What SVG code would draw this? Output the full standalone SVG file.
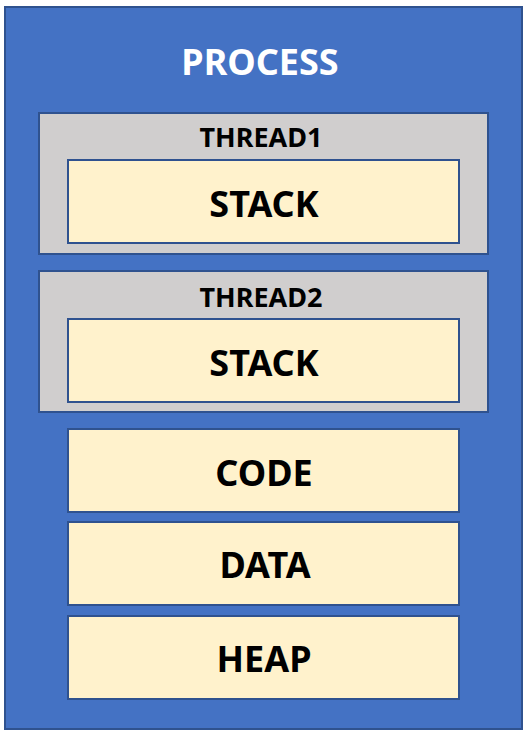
<svg xmlns="http://www.w3.org/2000/svg" width="528" height="733" viewBox="0 0 528 733">
<style>
.b{stroke:#2F528F;stroke-width:2}
.y{fill:#FFF2CC}
.g{fill:#D0CECE}
text{font-family:"Noto Sans","Open Sans",sans-serif;font-weight:bold;text-anchor:middle}
.big{font-size:36px;fill:#000}
.th{font-size:27px;fill:#000}
</style>
<g id="process">
<rect class="b" x="5" y="7" width="517" height="722" fill="#4472C4"/>
<text x="260" y="75" style="font-size:36px" fill="#fff">PROCESS</text>
</g>
<g id="thread1">
<rect class="b g" x="39" y="113" width="449" height="141"/>
<text class="th" x="261" y="146.5">THREAD1</text>
</g>
<g id="stack1">
<rect class="b y" x="68" y="160" width="391" height="83"/>
<text class="big" x="264" y="217">STACK</text>
</g>
<g id="thread2">
<rect class="b g" x="39" y="271" width="449" height="141"/>
<text class="th" x="261" y="306.5">THREAD2</text>
</g>
<g id="stack2">
<rect class="b y" x="68" y="319" width="391" height="83"/>
<text class="big" x="264" y="376">STACK</text>
</g>
<g id="code">
<rect class="b y" x="68" y="429" width="391" height="83"/>
<text class="big" x="264" y="485.5">CODE</text>
</g>
<g id="data">
<rect class="b y" x="68" y="522" width="391" height="83"/>
<text class="big" x="265" y="578">DATA</text>
</g>
<g id="heap">
<rect class="b y" x="68" y="616" width="391" height="83"/>
<text class="big" x="264" y="671.5">HEAP</text>
</g>
<g id="connectors"/>
</svg>
